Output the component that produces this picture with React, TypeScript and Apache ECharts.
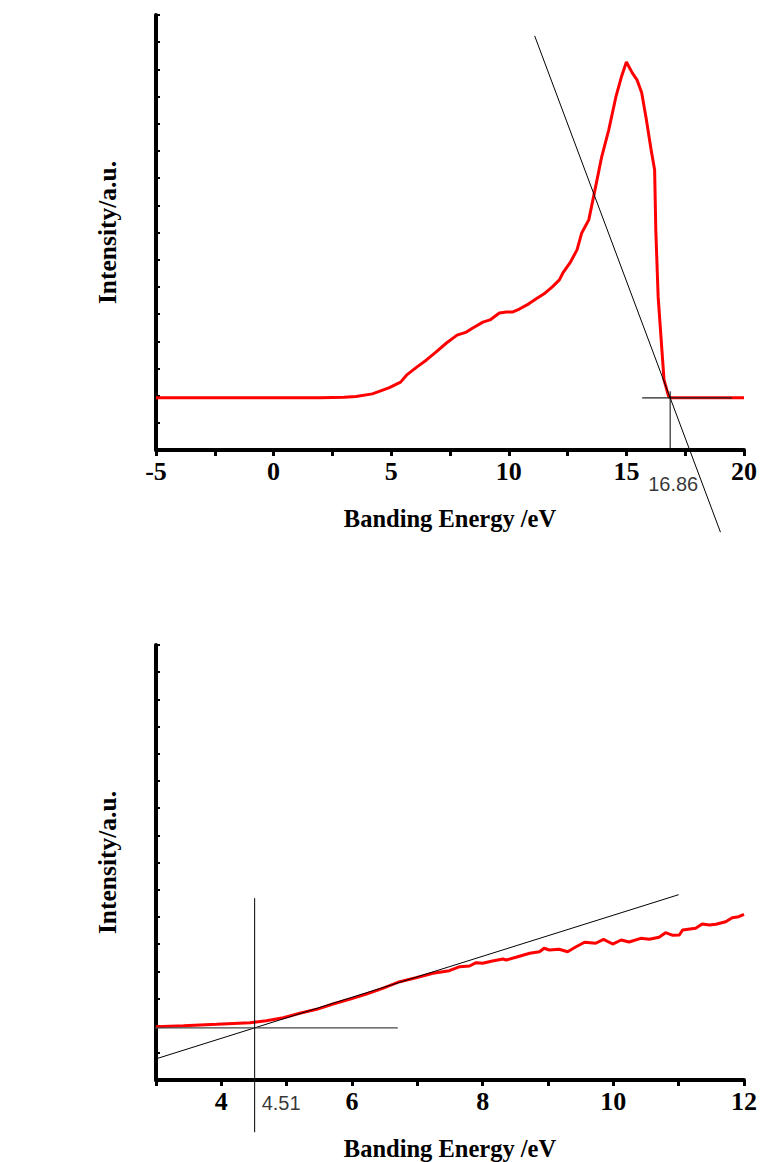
import React, { useEffect, useRef } from "react";
import * as echarts from "echarts";

// Top panel: full UPS spectrum
const topEnergy = [-5, -2, 0, 2, 3, 3.5, 4.2, 4.9, 5.4, 5.65, 6.1, 6.5, 6.9, 7.35, 7.8, 8.2, 8.45, 8.9, 9.2, 9.6, 9.9, 10.15, 10.45, 10.85, 11.15, 11.5, 11.85, 12.15, 12.3, 12.6, 12.9, 13.1, 13.4, 13.55, 13.75, 13.95, 14.25, 14.55, 14.8, 15.0, 15.25, 15.45, 15.65, 15.85, 16.05, 16.2, 16.25, 16.35, 16.5, 16.6, 16.8, 16.9, 17.5, 18.5, 20];
const topIntensity = [12, 12, 12, 12, 12.1, 12.3, 12.9, 14.3, 15.6, 17.2, 19.1, 20.7, 22.5, 24.6, 26.4, 27.1, 28.0, 29.4, 29.9, 31.5, 31.7, 31.7, 32.4, 33.6, 34.7, 35.9, 37.5, 39.1, 40.7, 43.0, 46.0, 49.9, 52.9, 56.8, 62.1, 67.4, 73.6, 81.1, 86.0, 89.2, 86.7, 85.1, 82.1, 75.9, 69.0, 64.4, 50.6, 35.2, 23.7, 16.1, 12.2, 12.0, 12.0, 12.0, 12.0];

// Top panel construction lines
const topTangentX = [11.1, 19.0];
const topTangentY = [95.2, -18.9];
const topBaseX = [15.67, 19.49];
const topBaseY = [12, 12];
const topCutoff = 16.86;
const topCutoffY = [13.5, 0];

// Bottom panel: onset region
const botEnergy = [3.0, 3.42, 3.93, 4.44, 4.69, 4.95, 5.2, 5.46, 5.71, 5.96, 6.22, 6.47, 6.73, 6.98, 7.24, 7.49, 7.65, 7.8, 7.9, 8.0, 8.15, 8.31, 8.36, 8.51, 8.72, 8.87, 8.94, 9.02, 9.17, 9.3, 9.43, 9.56, 9.73, 9.85, 9.99, 10.12, 10.24, 10.42, 10.55, 10.7, 10.8, 10.91, 11.01, 11.06, 11.26, 11.36, 11.47, 11.57, 11.72, 11.82, 11.92, 12.0];
const botIntensity = [12.25, 12.48, 12.8, 13.17, 13.63, 14.32, 15.33, 16.25, 17.47, 18.55, 19.77, 21.08, 22.6, 23.52, 24.53, 25.13, 26.05, 26.21, 26.97, 26.83, 27.36, 27.82, 27.59, 28.21, 29.13, 29.49, 30.28, 29.89, 30.05, 29.49, 30.64, 31.66, 31.43, 32.34, 31.26, 32.18, 31.72, 32.57, 32.34, 32.8, 33.86, 33.26, 33.33, 34.48, 34.87, 35.86, 35.63, 35.79, 36.39, 37.31, 37.54, 38.09];

const botTangentX = [0.74, 11.0];
const botTangentY = [-5.8, 42.6];
const botBaseX = [0.74, 6.7];
const botBaseY = [12, 12];
const botOnset = 4.51;
const botOnsetY = [41.8, -12.0];

const serif = "'Times New Roman', 'Liberation Serif', serif";
const sans = "Arial, 'Liberation Sans', sans-serif";

const pairs = (xs: number[], ys: number[]) => xs.map((x, i) => [x, ys[i]]);

function xAxisCfg(grid: number, min: number, max: number, interval: number, labelEvery: number) {
  return {
    gridIndex: grid,
    type: "value",
    min,
    max,
    interval,
    axisLine: { show: true, onZero: false, lineStyle: { color: "#000", width: 4, cap: "round" } },
    axisTick: { show: true, length: 6, lineStyle: { color: "#000", width: 3 } },
    axisLabel: {
      formatter: (v: number) => (Math.abs(v / labelEvery - Math.round(v / labelEvery)) < 1e-6 ? String(v) : ""),
      fontFamily: serif,
      fontWeight: "bold",
      fontSize: 26,
      color: "#000",
      margin: 8,
    },
    splitLine: { show: false },
    name: "Banding Energy /eV",
    nameLocation: "middle",
    nameGap: 56,
    nameTextStyle: { fontFamily: serif, fontWeight: "bold", fontSize: 24.5, color: "#000" },
  };
}

function yAxisCfg(grid: number) {
  return {
    gridIndex: grid,
    type: "value",
    min: 0,
    max: 100,
    interval: 6.25,
    axisLine: { show: true, onZero: false, lineStyle: { color: "#000", width: 4, cap: "round" } },
    axisTick: { show: true, inside: true, length: 4, lineStyle: { color: "#000", width: 2 } },
    axisLabel: { show: false },
    splitLine: { show: false },
    name: "Intensity/a.u.",
    nameLocation: "middle",
    nameGap: 36,
    nameRotate: 90,
    nameTextStyle: { fontFamily: serif, fontWeight: "bold", fontSize: 25.5, color: "#000" },
  };
}

function refLine(xi: number, data: number[][], color = "#000", width = 1, z = 3) {
  return {
    type: "line",
    xAxisIndex: xi,
    yAxisIndex: xi,
    data,
    symbol: "none",
    clip: false,
    silent: true,
    z,
    lineStyle: { color, width },
  };
}

function labelPoint(xi: number, x: number, text: string, pos: number[]) {
  return {
    type: "scatter",
    xAxisIndex: xi,
    yAxisIndex: xi,
    symbolSize: 0,
    clip: false,
    silent: true,
    data: [[x, 0]],
    itemStyle: { color: "rgba(0,0,0,0)" },
    label: {
      show: true,
      formatter: text,
      position: pos,
      align: "left",
      verticalAlign: "top",
      fontFamily: sans,
      fontSize: 20,
      color: "#000",
    },
  };
}

export default function App() {
  const ref = useRef<HTMLDivElement>(null);
  useEffect(() => {
    if (!ref.current) return;
    const chart = echarts.init(ref.current, null, { renderer: "svg" });
    chart.setOption({
      animation: false,
      backgroundColor: "#fff",
      grid: [
        { left: 156, top: 15, width: 589, height: 435 },
        { left: 156, top: 645, width: 589, height: 435 },
      ],
      xAxis: [xAxisCfg(0, -5, 20, 2.5, 5), xAxisCfg(1, 3, 12, 1, 2)],
      yAxis: [yAxisCfg(0), yAxisCfg(1)],
      series: [
        {
          type: "line",
          xAxisIndex: 0,
          yAxisIndex: 0,
          data: pairs(topEnergy, topIntensity),
          showSymbol: false,
          symbol: "none",
          z: 2,
          lineStyle: { color: "#ff0000", width: 3 },
        },
        refLine(0, pairs(topTangentX, topTangentY)),
        refLine(0, pairs(topBaseX, topBaseY), "#222", 1.2),
        refLine(0, [[topCutoff, topCutoffY[0]], [topCutoff, topCutoffY[1]]]),
        labelPoint(0, topCutoff, "16.86", [-22, 24]),
        {
          type: "line",
          xAxisIndex: 1,
          yAxisIndex: 1,
          data: pairs(botEnergy, botIntensity),
          showSymbol: false,
          symbol: "none",
          z: 2,
          lineStyle: { color: "#ff0000", width: 3 },
        },
        refLine(1, pairs(botTangentX, botTangentY)),
        refLine(1, pairs(botBaseX, botBaseY), "#444", 1.2),
        refLine(1, [[botOnset, botOnsetY[0]], [botOnset, botOnsetY[1]]]),
        labelPoint(1, botOnset, "4.51", [7, 13]),
      ],
    });
    return () => chart.dispose();
  }, []);
  return (
    <div
      ref={ref}
      style={{ position: "absolute", left: 0, top: 0, width: 760, height: 1162, background: "#fff" }}
    />
  );
}
